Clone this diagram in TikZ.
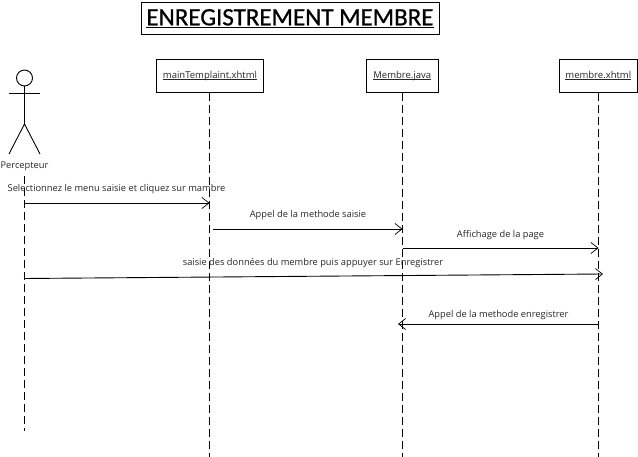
\documentclass[tikz,border=0pt]{standalone}
\usepackage{fontspec}
\setmainfont{Open Sans}
\newfontfamily\titlefont[FakeBold=0.8]{Carlito}
\usetikzlibrary{arrows.meta}
\newcommand\ulbox[1]{\vphantom{Ag}\underline{\smash{#1}}}
\tikzset{
  x=1pt,y=-1pt,
  box/.style={draw=black,line width=0.9pt,fill=white,inner sep=0pt,font=\fontsize{9.5}{11}\selectfont,text=black!85},
  titlebox/.style={draw=black,line width=0.9pt,inner sep=0pt,font=\titlefont\fontsize{25}{30}\selectfont},
  life/.style={line width=0.9pt,dash pattern=on 8pt off 4pt},
  msg/.style={line width=0.9pt,-{Straight Barb[length=7pt,width=11pt,line width=0.7pt]}},
  lbl/.style={inner sep=0pt,font=\fontsize{9.3}{11}\selectfont,text=black!85},
  actorline/.style={line width=0.9pt}
}
\begin{document}
\begin{tikzpicture}
\useasboundingbox (0,0) rectangle (638,457);
\node[titlebox,minimum width=298pt,minimum height=32pt] (title) at (290,18) {\rule{0pt}{19pt}\ulbox{ENREGISTREMENT MEMBRE}};
\node[box,minimum width=107pt,minimum height=33pt] (main) at (210,76) {\ulbox{mainTemplaint.xhtml}};
\node[box,minimum width=72.5pt,minimum height=33pt] (java) at (402.3,76) {\ulbox{Membre.java}};
\node[box,minimum width=78.5pt,minimum height=33pt] (xhtml) at (598.3,76) {\ulbox{membre.xhtml}};
% actor
\node[draw=black,line width=0.9pt,circle,minimum size=16pt,inner sep=0pt] (head) at (24.5,78) {};
\coordinate (hip) at (24.5,124);
\coordinate (armL) at (9,93);
\coordinate (armR) at (40,93);
\coordinate (legL) at (9,154);
\coordinate (legR) at (40,154);
\draw[actorline] (head.south) -- (hip);
\draw[actorline] (armL) -- (armR);
\draw[actorline] (legL) -- (hip) -- (legR);
\node[lbl] (actor) at (24.5,166.5) {Percepteur};
% lifelines
\coordinate (a0) at (24.5,176);
\coordinate (aEnd) at (24.5,431);
\coordinate (mEnd) at (209.5,458);
\coordinate (jEnd) at (402.5,458);
\coordinate (xEnd) at (598.5,458);
\draw[life] (a0) -- (aEnd);
\draw[life] (main.south -| mEnd) -- (mEnd);
\draw[life] (java.south -| jEnd) -- (jEnd);
\draw[life] (xhtml.south -| xEnd) -- (xEnd);
% messages
\coordinate (m1a) at (24.5,203); \coordinate (m1b) at (209.5,203);
\coordinate (m2a) at (213,229);  \coordinate (m2b) at (402.5,229);
\coordinate (m3a) at (402.5,248);\coordinate (m3b) at (598.5,248);
\coordinate (m4a) at (24,278.5); \coordinate (m4b) at (603,274);
\coordinate (m5a) at (599,324);  \coordinate (m5b) at (398,324);
\draw[msg] (m1a) -- (m1b);
\draw[msg] (m2a) -- (m2b);
\draw[msg] (m3a) -- (m3b);
\draw[msg] (m4a) -- (m4b);
\draw[msg] (m5a) -- (m5b);
\node[lbl] (l1) at (116.5,189.3) {Selectionnez le menu saisie et cliquez sur mambre};
\node[lbl] (l2) at (308,215.5) {Appel de la methode saisie};
\node[lbl] (l3) at (500.5,235) {Affichage de la page};
\node[lbl] (l4) at (313,263) {saisie des données du membre puis appuyer sur Enregistrer};
\node[lbl] (l5) at (498.5,315) {Appel de la methode enregistrer};
\end{tikzpicture}
\end{document}
